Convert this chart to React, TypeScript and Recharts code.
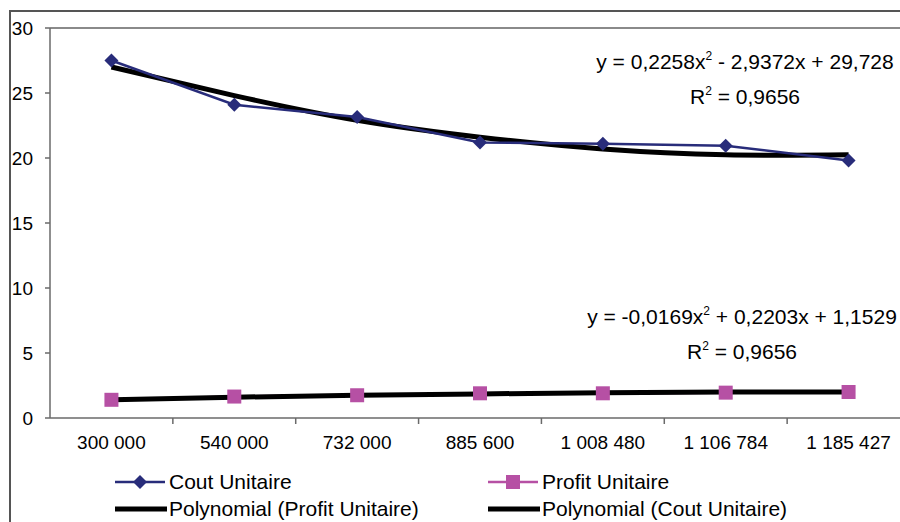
import { CartesianGrid, Line, LineChart, ReferenceLine, XAxis, YAxis } from 'recharts'

const categories = ['300 000', '540 000', '732 000', '885 600', '1 008 480', '1 106 784', '1 185 427']
const coutUnitaire = [27.5, 24.1, 23.15, 21.2, 21.1, 20.95, 19.8]
const profitUnitaire = [1.4, 1.65, 1.75, 1.9, 1.9, 1.95, 2.0]
const polyCout = [27.0, 24.8, 22.9, 21.6, 20.7, 20.25, 20.25]
const polyProfit = [1.4, 1.6, 1.75, 1.85, 1.95, 2.0, 2.0]
const yTicks = [0, 5, 10, 15, 20, 25, 30]

const NAVY = '#282c7a'
const PINK = '#b650a4'
const AXIS = '#6a6a6a'
const FONT = 'Arial, "Liberation Sans", sans-serif'

const PLOT_W = 860
const STEP = PLOT_W / categories.length

const rows = categories.map((name, i) => ({
  x: i + 1,
  name,
  cout: coutUnitaire[i],
  profit: profitUnitaire[i],
  polyCout: polyCout[i],
  polyProfit: polyProfit[i],
}))

function CategoryTick({ x, y, payload }: { x: number; y: number; payload: { value: number } }) {
  return (
    <g>
      <text x={x} y={y + 31} textAnchor="middle" fontSize={19} fontFamily={FONT} fill="#000">
        {categories[payload.value - 1]}
      </text>
      {payload.value < categories.length && (
        <line x1={x + STEP / 2} y1={y} x2={x + STEP / 2} y2={y + 6} stroke={AXIS} strokeWidth={1.5} />
      )}
    </g>
  )
}

function Diamond({ cx, cy }: { cx?: number; cy?: number }) {
  if (cx == null || cy == null) return null
  return <path d={`M${cx} ${cy - 7}L${cx + 7} ${cy}L${cx} ${cy + 7}L${cx - 7} ${cy}Z`} fill={NAVY} />
}

function Square({ cx, cy }: { cx?: number; cy?: number }) {
  if (cx == null || cy == null) return null
  return <rect x={cx - 7} y={cy - 7} width={14} height={14} fill={PINK} />
}

function Sup({ children }: { children: string }) {
  return <span style={{ fontSize: 12, position: 'relative', top: -9 }}>{children}</span>
}

function LegendItem({ kind, label, left, top }: { kind: 'cout' | 'profit' | 'poly'; label: string; left: number; top: number }) {
  return (
    <div style={{ position: 'absolute', left, top, display: 'flex', alignItems: 'center', fontSize: 21, lineHeight: '22px', fontFamily: FONT, whiteSpace: 'nowrap' }}>
      <svg width={52} height={22}>
        {kind === 'poly' && <line x1={0} y1={11} x2={52} y2={11} stroke="#000" strokeWidth={5} />}
        {kind === 'cout' && (
          <>
            <line x1={0} y1={11} x2={50} y2={11} stroke={NAVY} strokeWidth={2.5} />
            <path d="M25 4L32 11L25 18L18 11Z" fill={NAVY} />
          </>
        )}
        {kind === 'profit' && (
          <>
            <line x1={0} y1={11} x2={50} y2={11} stroke={PINK} strokeWidth={2.5} />
            <rect x={18} y={4} width={14} height={14} fill={PINK} />
          </>
        )}
      </svg>
      <span style={{ marginLeft: 2 }}>{label}</span>
    </div>
  )
}

export default function App() {
  return (
    <div style={{ position: 'absolute', left: 0, top: 0, width: 900, height: 522, overflow: 'hidden', background: '#fff' }}>
      <div style={{ position: 'absolute', left: 9, top: 10, width: 1000, height: 1000, borderLeft: '2px solid #555', borderTop: '2px solid #555' }} />
      <div style={{ position: 'absolute', left: 0, top: 0 }}>
        <LineChart width={910} height={458} data={rows} margin={{ top: 28, right: 0, bottom: 0, left: 0 }}>
          <CartesianGrid stroke="none" />
          <XAxis
            type="number"
            dataKey="x"
            domain={[0.5, 7.5]}
            ticks={[1, 2, 3, 4, 5, 6, 7]}
            tickSize={0}
            tickMargin={0}
            tick={CategoryTick as any}
            height={40}
            axisLine={{ stroke: AXIS, strokeWidth: 1.5 }}
          />
          <YAxis
            domain={[0, 30]}
            ticks={yTicks}
            width={50}
            tickSize={5}
            tickMargin={12}
            tick={{ fontSize: 19, fill: '#000', fontFamily: FONT }}
            tickLine={{ stroke: AXIS, strokeWidth: 1.5 }}
            axisLine={{ stroke: AXIS, strokeWidth: 1.5 }}
          />
          <ReferenceLine y={30} stroke="#8a8a8a" strokeWidth={2} />
          <Line dataKey="profit" type="linear" stroke={PINK} strokeWidth={2.5} dot={false} isAnimationActive={false} />
          <Line dataKey="polyProfit" type="natural" stroke="#000" strokeWidth={5} dot={false} isAnimationActive={false} />
          <Line dataKey="polyCout" type="natural" stroke="#000" strokeWidth={5} dot={false} isAnimationActive={false} />
          <Line dataKey="cout" type="linear" stroke={NAVY} strokeWidth={2.5} dot={<Diamond />} isAnimationActive={false} />
          <Line dataKey="profit" type="linear" stroke="none" dot={<Square />} isAnimationActive={false} />
        </LineChart>
      </div>
      <div style={{ position: 'absolute', left: 545, top: 46, width: 400, textAlign: 'center', fontSize: 21, lineHeight: '31px', fontFamily: FONT }}>
        <div>y = 0,2258x<Sup>2</Sup> - 2,9372x + 29,728</div>
        <div>R<Sup>2</Sup> = 0,9656</div>
      </div>
      <div style={{ position: 'absolute', left: 542, top: 301, width: 400, textAlign: 'center', fontSize: 21, lineHeight: '31px', fontFamily: FONT }}>
        <div>y = -0,0169x<Sup>2</Sup> + 0,2203x + 1,1529</div>
        <div>R<Sup>2</Sup> = 0,9656</div>
      </div>
      <LegendItem kind="cout" label="Cout Unitaire" left={115} top={471} />
      <LegendItem kind="profit" label="Profit Unitaire" left={488} top={471} />
      <LegendItem kind="poly" label="Polynomial (Profit Unitaire)" left={115} top={498} />
      <LegendItem kind="poly" label="Polynomial (Cout Unitaire)" left={488} top={498} />
    </div>
  )
}
